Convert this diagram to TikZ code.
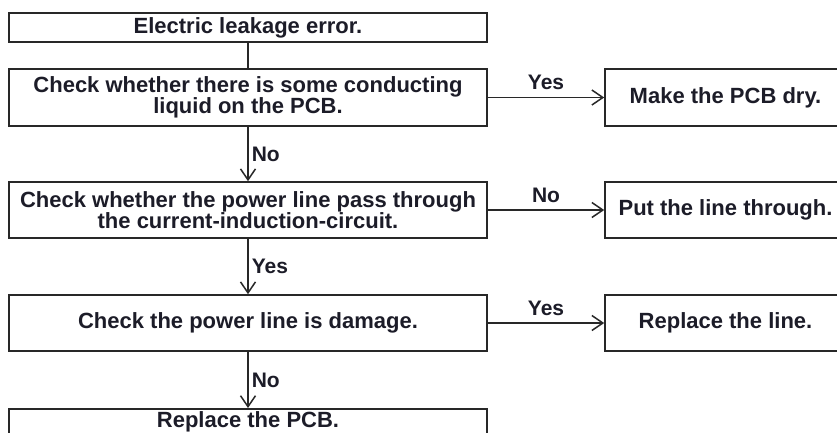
\documentclass[tikz,border=0pt]{standalone}
\usepackage{fontspec}
\setmainfont{Liberation Sans}
\usetikzlibrary{arrows.meta}
\definecolor{txt}{RGB}{28,28,40}
\definecolor{ln}{RGB}{40,40,40}
\tikzset{
  box/.style={draw=ln, line width=1.6pt, rectangle, inner sep=0pt, align=center,
    text=txt, font=\fontsize{22}{21.5}\selectfont\bfseries},
  lbox/.style={box, minimum width=478pt},
  rbox/.style={box, minimum width=241pt},
  conn/.style={draw=ln, line width=1.5pt},
  arr/.style={conn, -{Straight Barb[length=11pt, width=15pt, line width=1.5pt]}},
  lab/.style={text=txt, font=\fontsize{21}{21}\selectfont\bfseries, inner sep=0pt}
}
\begin{document}
\begin{tikzpicture}[x=1pt,y=-1pt]
\useasboundingbox (0,0) rectangle (837,432);
\clip (0,0) rectangle (837,432);
\fill[white] (0,0) rectangle (837,432);
\node[lbox, minimum height=29pt] (b1) at (248,27.5) {Electric leakage error.};
\node[lbox, minimum height=57pt] (b2) at (248,97.5) {Check whether there is some conducting\\liquid on the PCB.};
\node[lbox, minimum height=56pt] (b3) at (248,210) {Check whether the power line pass through\\the current-induction-circuit.};
\node[lbox, minimum height=56pt] (b4) at (248,323) {Check the power line is damage.};
\node[lbox, minimum height=26pt, anchor=north] (b5) at (248,408) {Replace the PCB.};
\node[rbox, minimum height=57pt] (r1) at (725.5,97.5) {Make the PCB dry.};
\node[rbox, minimum height=56pt] (r2) at (725.5,210) {Put the line through.};
\node[rbox, minimum height=56pt] (r3) at (725.5,323) {Replace the line.};
\draw[conn] (b1) -- (b2);
\draw[arr] (b2) -- node[lab, anchor=west, xshift=3pt] (l1) {No} (b3);
\draw[arr] (b3) -- node[lab, anchor=west, xshift=3pt] (l2) {Yes} (b4);
\draw[arr] (b4) -- node[lab, anchor=west, xshift=3pt] (l3) {No} (b5);
\draw[arr] (b2) -- node[lab, above=7pt] (l4) {Yes} (r1);
\draw[arr] (b3) -- node[lab, above=7pt] (l5) {No} (r2);
\draw[arr] (b4) -- node[lab, above=7pt] (l6) {Yes} (r3);
\end{tikzpicture}
\end{document}
